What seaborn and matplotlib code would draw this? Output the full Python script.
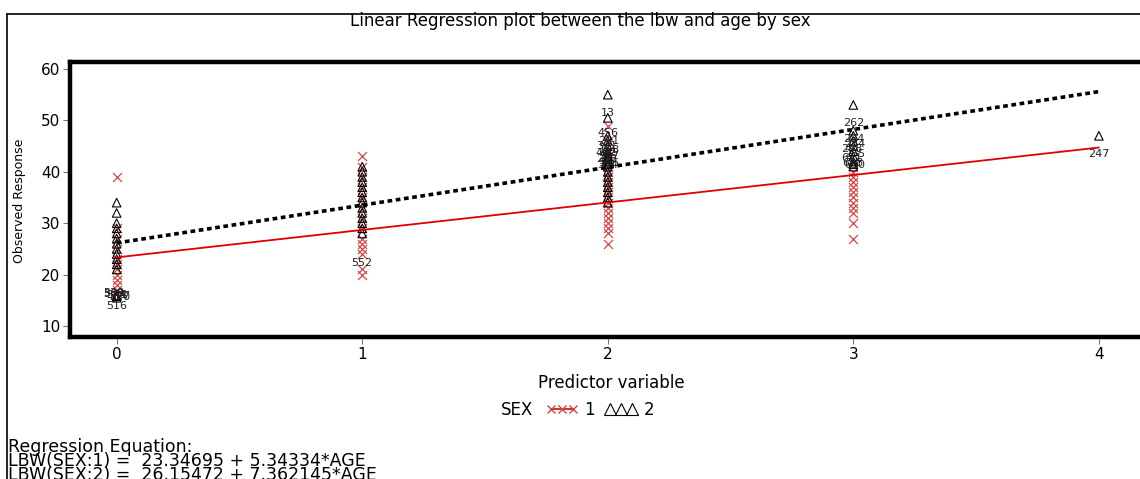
import numpy as np
import pandas as pd
import matplotlib
matplotlib.use("Agg")
import matplotlib.pyplot as plt
from matplotlib.lines import Line2D
import seaborn as sns

sns.set_style("white", {'text.color': 'black', 'xtick.color': 'black',
                        'ytick.color': 'black', 'axes.labelcolor': 'black'})
plt.rcParams['font.family'] = ['DejaVu Sans']

sex1_age = ([0] * 11 + [1] * 14 + [2] * 20 + [3] * 12)
sex1_lbw = ([39, 29, 27, 25, 23, 22, 21, 20, 19, 18, 17,
             43, 41, 39, 37, 35, 33, 31, 29, 27, 26, 25, 24, 21, 20,
             49, 46, 44, 43, 42, 41, 40, 39, 38, 37, 36, 35, 34, 33, 32, 31, 30, 29, 28, 26,
             42, 40, 39, 38, 37, 36, 35, 34, 33, 32, 30, 27])

sex2_age = ([0] * 15 + [1] * 14 + [2] * 19 + [3] * 10 + [4])
sex2_lbw = ([34, 32, 30, 29, 28, 27, 26, 25, 24, 23, 22, 21, 16, 15.8, 15.5,
             41, 40, 39, 38, 37, 36, 35, 34, 33, 32, 31, 30, 29, 28,
             55, 50.5, 47, 46, 45, 44, 43.5, 43, 42.5, 42, 41.5, 41, 40, 39, 38, 37, 36, 35, 34,
             53, 48, 47, 46, 45, 44, 43, 42, 41.5, 41,
             47])

# observation labels (outliers) printed next to the points
lab_x = [0, 0, 0, 0, 0, 0, 0, 1,
         2, 2, 2, 2, 2, 2, 2, 2, 2, 2,
         3, 3, 3, 3, 3, 3, 3, 3, 4]
lab_y = [16.4, 16.1, 15.8, 16.3, 16.0, 15.7, 13.9, 22.3,
         51.4, 47.5, 46.0, 45.0, 44.3, 43.6, 43.0, 42.4, 41.8, 41.3,
         49.5, 46.3, 45.5, 44.5, 43.5, 42.6, 41.8, 41.3, 43.5]
lab_txt = ['538', '541', '527', '509', '544', '520', '516', '552',
           '13', '456', '221', '391', '188', '402', '317', '293', '166', '354',
           '262', '284', '234', '298', '255', '611', '628', '630', '247']
lab_dx = [-0.012, 0.0, 0.012, -0.012, 0.0, 0.012, 0, 0,
          0, 0, 0.006, -0.006, 0.006, -0.006, 0.006, -0.006, 0.006, 0,
          0, 0, 0.006, -0.006, 0.006, -0.006, 0.0, 0.006, 0]

# regression coefficients
sexes = ['1', '2']
intercepts = [23.34695, 26.15472]
slopes = [5.34334, 7.362145]
slope_txt = ['5.34334', '7.362145']

df1 = pd.DataFrame({'age': sex1_age, 'lbw': sex1_lbw})
df2 = pd.DataFrame({'age': sex2_age, 'lbw': sex2_lbw})
fit_x = np.array([0, 4])
fits = pd.DataFrame({
    'age': np.concatenate([fit_x, fit_x]),
    'lbw': np.concatenate([intercepts[i] + slopes[i] * fit_x for i in range(2)]),
    'sex': ['1', '1', '2', '2'],
})

W, H = 1140, 479
fig = plt.figure(figsize=(W / 100, H / 100), dpi=100)
ax = fig.add_axes([70 / W, 1 - 337 / H, (1148 - 70) / W, (337 - 62) / H])

red_mk = '#d04848'
sns.scatterplot(data=df1, x='age', y='lbw', marker='x', color=red_mk,
                s=42, linewidth=0.9, ax=ax, zorder=3)
sns.scatterplot(data=df2, x='age', y='lbw', marker='^', facecolors='none',
                edgecolor='black', s=38, linewidth=0.8, ax=ax, zorder=4)

sns.lineplot(data=fits[fits.sex == '1'], x='age', y='lbw', color='#e00000',
             lw=1.3, ax=ax, zorder=5)
sns.lineplot(data=fits[fits.sex == '2'], x='age', y='lbw', color='black',
             lw=2.6, ls=(0, (1.3, 1.0)), ax=ax, zorder=5)

for x, y, t, dx in zip(lab_x, lab_y, lab_txt, lab_dx):
    ax.text(x + dx, y, t, fontsize=8, color='#222222', ha='center', va='center', zorder=6)

ax.set_xlim(-0.19, 4.2)
ax.set_ylim(7.86, 61.36)
ax.set_xticks([0, 1, 2, 3, 4])
ax.set_yticks([10, 20, 30, 40, 50, 60])
ax.set_xlabel('')
ax.set_ylabel('')
ax.tick_params(axis='both', which='both', direction='out', length=5, width=0.8,
               color='#777777', labelcolor='black', labelsize=11, pad=2)
ax.tick_params(left=True, bottom=True)
for sp in ax.spines.values():
    sp.set_linewidth(3.2)
    sp.set_color('black')

# figure texts
fig.text(580 / W, 1 - 21.5 / H, 'Linear Regression plot between the lbw and age by sex',
         ha='center', va='center', fontsize=12)
fig.text(611 / W, 1 - 383 / H, 'Predictor variable', ha='center', va='center', fontsize=12)
fig.text(20 / W, 1 - 201 / H, 'Observed Response', ha='center', va='center',
         rotation=90, fontsize=9)

fig.text(501 / W, 1 - 410 / H, 'SEX', ha='left', va='center', fontsize=12)
handles = [
    Line2D([], [], color='#e00000', lw=1.2, marker='x', markersize=6, mec=red_mk, mew=1),
    Line2D([], [], ls='none', marker='^', markersize=8, mfc='none', mec='black', mew=0.8),
]
fig.legend(handles, sexes, loc='center left', bbox_to_anchor=(546 / W, 1 - 410 / H),
           ncol=2, frameon=False, numpoints=3, handlelength=1.9, handletextpad=0.4,
           columnspacing=0.6, borderaxespad=0, borderpad=0, fontsize=12)

fig.text(8 / W, 1 - 447 / H, 'Regression Equation:', ha='left', va='center', fontsize=12.5)
for i, s in enumerate(sexes):
    fig.text(8 / W, 1 - (461 + 13.5 * i) / H,
             f'LBW(SEX:{s}) =  {intercepts[i]:.5f} + {slope_txt[i]}*AGE',
             ha='left', va='center', fontsize=12.5)

# outer frame of the output page
fig.add_artist(Line2D([7 / W, 7 / W], [0, 1 - 14 / H], color='black', lw=1.2))
fig.add_artist(Line2D([7 / W, 1], [1 - 14 / H, 1 - 14 / H], color='black', lw=1.2))

fig.savefig('out.png', dpi=100)
